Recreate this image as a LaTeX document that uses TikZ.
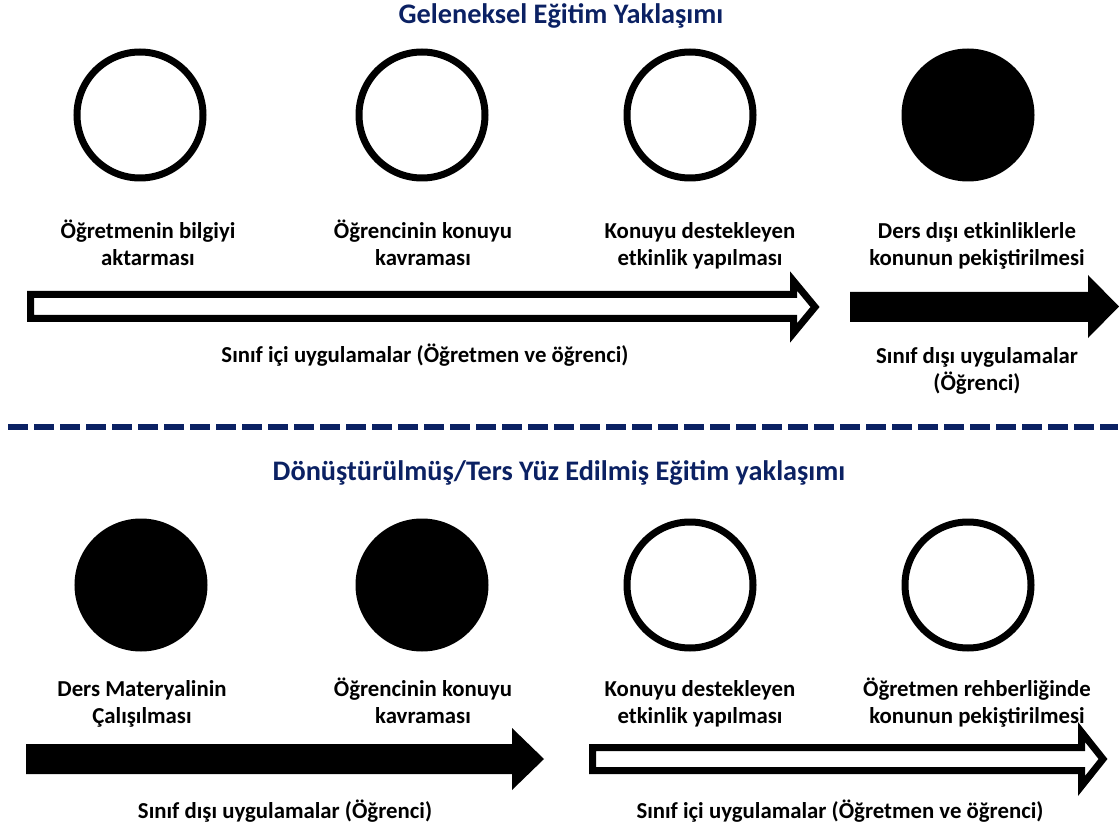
\documentclass[tikz,border=0pt]{standalone}
\usepackage{fontspec}
\setmainfont{Carlito}
\definecolor{navy}{HTML}{0B2163}
\begin{document}
\begin{tikzpicture}[x=1pt,y=-1pt,
  ring/.style={circle,draw=black,line width=7pt,minimum size=126pt,inner sep=0pt},
  disc/.style={ring,fill=black},
  lbl/.style={align=center,font=\fontsize{22.8}{27}\selectfont\bfseries,inner sep=0pt,anchor=base},
  ttl/.style={font=\fontsize{28.3}{32}\selectfont\bfseries,text=navy,inner sep=0pt,anchor=base},
  hollow/.style={draw=black,line width=7pt,fill=white,line join=miter},
  solid/.style={fill=black}]
\useasboundingbox (0,0) rectangle (1120,829);
% titles
\node[ttl] (t1) at (561,24) {Geleneksel Eğitim Yaklaşımı};
\node[ttl] (t2) at (559,480) {Dönüştürülmüş/Ters Yüz Edilmiş Eğitim yaklaşımı};
% top circles
\node[ring] (c1) at (140,115) {};
\node[ring] (c2) at (422,115) {};
\node[ring] (c3) at (690,115) {};
\node[disc] (c4) at (968,115) {};
% top labels (anchor = baseline of last line)
\node[lbl] (l1) at (148,266) {Öğretmenin bilgiyi\\aktarması};
\node[lbl] (l2) at (423,266) {Öğrencinin konuyu\\kavraması};
\node[lbl] (l3) at (700,266) {Konuyu destekleyen\\etkinlik yapılması};
\node[lbl] (l4) at (977,266) {Ders dışı etkinliklerle\\konunun pekiştirilmesi};
% top arrows
\draw[hollow] (30.5,294.5) -- (793.5,294.5) -- (793.5,281) -- (815,307) -- (793.5,333) -- (793.5,318.5) -- (30.5,318.5) -- cycle;
\fill[solid] (850,292) -- (1088,292) -- (1088,275) -- (1119,306.5) -- (1088,338) -- (1088,322) -- (850,322) -- cycle;
\node[lbl] (s1) at (425,362) {Sınıf içi uygulamalar (Öğretmen ve öğrenci)};
\node[lbl] (s2) at (977,390) {Sınıf dışı uygulamalar\\(Öğrenci)};
% divider
\coordinate (dl) at (8,427);
\coordinate (dr) at (1118,427);
\draw[navy,line width=6pt,dash pattern=on 20pt off 6pt] (dl) -- (dr);
% bottom circles
\node[disc] (d1) at (141,585) {};
\node[disc] (d2) at (422,585) {};
\node[ring] (d3) at (690,585) {};
\node[ring] (d4) at (968,585) {};
% bottom labels
\node[lbl] (m1) at (142,723) {Ders Materyalinin\\Çalışılması};
\node[lbl] (m2) at (423,723) {Öğrencinin konuyu\\kavraması};
\node[lbl] (m3) at (700,723) {Konuyu destekleyen\\etkinlik yapılması};
\node[lbl] (m4) at (977,723) {Öğretmen rehberliğinde\\konunun pekiştirilmesi};
% bottom arrows
\fill[solid] (26,744) -- (512,744) -- (512,728) -- (544,759) -- (512,790) -- (512,774) -- (26,774) -- cycle;
\draw[hollow] (592.5,747.5) -- (1081.5,747.5) -- (1081.5,732) -- (1103,759) -- (1081.5,786) -- (1081.5,770.5) -- (592.5,770.5) -- cycle;
\node[lbl] (n1) at (285,818) {Sınıf dışı uygulamalar (Öğrenci)};
\node[lbl] (n2) at (840,818) {Sınıf içi uygulamalar (Öğretmen ve öğrenci)};
\end{tikzpicture}
\end{document}
